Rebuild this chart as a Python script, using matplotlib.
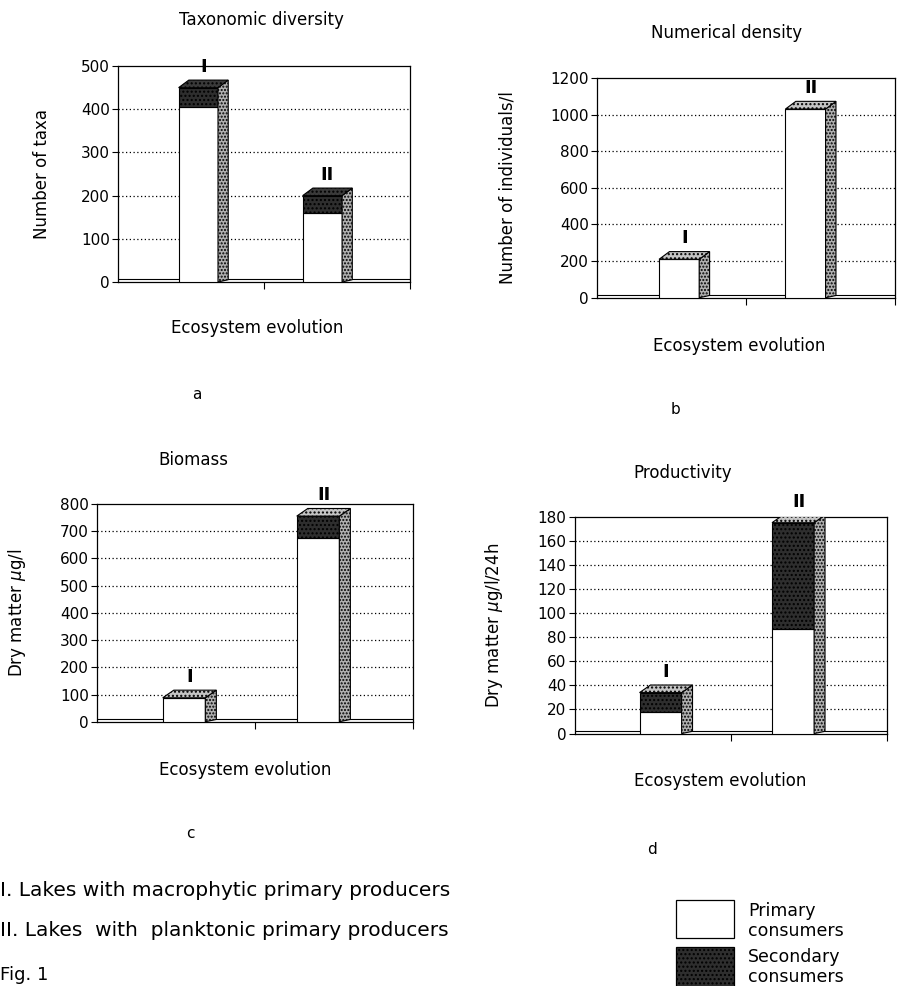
import matplotlib
matplotlib.use("Agg")
import matplotlib.pyplot as plt

plt.rcParams['font.family'] = ['DejaVu Sans']

# data (front faces of the stacked bars)
groups = ['I', 'II']
tax_primary = [405, 160]
tax_secondary = [45, 40]
dens_primary = [210, 1030]
dens_secondary = [0, 0]
bio_primary = [88, 675]
bio_secondary = [0, 80]
prod_primary = [18, 87]
prod_secondary = [16, 88]

titles = ['Taxonomic diversity', 'Numerical density', 'Biomass', 'Productivity']
ylabels = ['Number of taxa', 'Number of individuals/l',
           'Dry matter $\\mu$g/l', 'Dry matter $\\mu$g/l/24h']
ymaxes = [500, 1200, 800, 180]
ysteps = [100, 200, 100, 20]
letters = ['a', 'b', 'c', 'd']

fig = plt.figure(figsize=(9.01, 9.86), dpi=100)

# axes boxes in figure fractions
boxes = [[0.131, 0.714, 0.324, 0.219],
         [0.663, 0.698, 0.330, 0.223],
         [0.108, 0.268, 0.350, 0.221],
         [0.638, 0.256, 0.346, 0.220]]
# label placements (axes fractions)
title_xy = [(0.49, 1.213), (0.433, 1.205), (0.305, 1.20), (0.346, 1.203)]
xlab_xy = [(0.476, -0.213), (0.477, -0.22), (0.47, -0.22), (0.465, -0.22)]
ylab_x = [-0.229, -0.273, -0.219, -0.224]
# letter positions in pixels
letter_px = [(197, 395), (675, 410), (190, 833), (652, 850)]

panels = [(tax_primary, tax_secondary), (dens_primary, dens_secondary),
          (bio_primary, bio_secondary), (prod_primary, prod_secondary)]

width = 0.27
xpos = [0.05, 0.9]

for i in range(4):
    ax = fig.add_axes(boxes[i])
    prim, sec = panels[i]
    ymax = ymaxes[i]
    dx = 0.07
    dy = 0.035 * ymax

    # dotted gridlines
    for v in range(ysteps[i], ymax, ysteps[i]):
        ax.axhline(v, color='black', linestyle=(0, (1, 2)), linewidth=0.9, zorder=1)
    # floor
    ax.plot([-0.5, 1.5], [0.012 * ymax, 0.012 * ymax], color='black', lw=0.8, zorder=1)

    ax.bar(xpos, prim, width=width, color='white', edgecolor='black',
           linewidth=0.8, zorder=3)
    ax.bar(xpos, sec, width=width, bottom=prim, color='#2e2e2e',
           edgecolor='black', linewidth=0.8, hatch='....', zorder=3)

    for j in range(2):
        top = prim[j] + sec[j]
        xr = xpos[j] + width / 2
        xl = xpos[j] - width / 2
        # side face
        ax.fill([xr, xr + dx, xr + dx, xr], [0, dy * 0.3, top + dy, top],
                facecolor='#b0b0b0', edgecolor='black', hatch='.....',
                linewidth=0.8, zorder=3)
        # top face
        topcol = '#3a3a3a' if sec[j] > 0 and i == 0 else '#c4c4c4'
        ax.fill([xl, xl + dx, xr + dx, xr], [top, top + dy, top + dy, top],
                facecolor=topcol, edgecolor='black', hatch='....',
                linewidth=0.8, zorder=3)
        # group label
        ax.text(xpos[j] + dx / 2, top + dy + 0.02 * ymax, groups[j],
                ha='center', va='bottom', fontsize=13, fontweight='bold',
                clip_on=False)

    ax.set_xlim(-0.5, 1.5)
    ax.set_ylim(0, ymax)
    ax.set_yticks(range(0, ymax + 1, ysteps[i]))
    ax.tick_params(axis='y', labelsize=11, length=4, width=0.8, pad=2)
    ax.set_xticks([0.5, 1.5])
    ax.set_xticklabels([])
    ax.tick_params(axis='x', length=5, width=0.8)
    for s in ax.spines.values():
        s.set_linewidth(0.9)

    ax.set_ylabel(ylabels[i], fontsize=12)
    ax.yaxis.set_label_coords(ylab_x[i], 0.5)
    ax.text(xlab_xy[i][0], xlab_xy[i][1], 'Ecosystem evolution', transform=ax.transAxes,
            ha='center', va='center', fontsize=12)
    ax.text(title_xy[i][0], title_xy[i][1], titles[i], transform=ax.transAxes,
            ha='center', va='center', fontsize=12)
    fig.text(letter_px[i][0] / 901, 1 - letter_px[i][1] / 986, letters[i],
             ha='center', va='center', fontsize=11)

# bottom notes
fig.text(0.0, 1 - 890 / 986, 'I. Lakes with macrophytic primary producers',
         fontsize=14.5, va='center', ha='left')
fig.text(0.0, 1 - 931 / 986, 'II. Lakes  with  planktonic primary producers',
         fontsize=14.5, va='center', ha='left')
fig.text(0.0, 2 / 986, 'Fig. 1', fontsize=13, va='bottom', ha='left')

# legend boxes
lx = 676 / 901
lw = 58 / 901
fig.patches.append(plt.Rectangle((lx, 1 - 938 / 986), lw, 38 / 986,
                                 transform=fig.transFigure,
                                 facecolor='white', edgecolor='black', linewidth=0.9))
fig.patches.append(plt.Rectangle((lx, 1 - 992 / 986), lw, 45 / 986,
                                 transform=fig.transFigure,
                                 facecolor='#2e2e2e', edgecolor='black', hatch='....',
                                 linewidth=0.9))
fig.text(748 / 901, 1 - 921 / 986, 'Primary\nconsumers', fontsize=12.5,
         va='center', ha='left', linespacing=1.2)
fig.text(748 / 901, 1 - 967 / 986, 'Secondary\nconsumers', fontsize=12.5,
         va='center', ha='left', linespacing=1.2)

fig.savefig('out.png', dpi=100)
